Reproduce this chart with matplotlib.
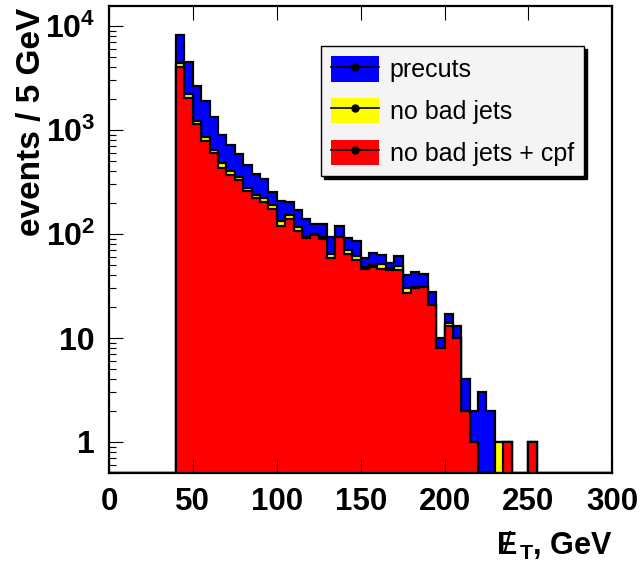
import matplotlib
matplotlib.use('Agg')
import matplotlib.pyplot as plt
import numpy as np
from matplotlib.patches import Patch
from matplotlib.lines import Line2D
from matplotlib.ticker import LogLocator, NullFormatter

plt.rcParams['font.family'] = 'Liberation Sans'
plt.rcParams['mathtext.fontset'] = 'custom'
plt.rcParams['mathtext.rm'] = 'Liberation Sans:bold'
plt.rcParams['mathtext.bf'] = 'Liberation Sans:bold'
plt.rcParams['mathtext.it'] = 'Liberation Sans:bold'
plt.rcParams['mathtext.sf'] = 'Liberation Sans'

# missing ET histograms, 5 GeV bins starting at 40 GeV
first_bin = 40
bin_width = 5
precuts = [8150, 4520, 2670, 1890, 1345, 906, 711, 583, 465, 375,
           336, 256, 208, 204, 172, 138, 125, 125, 93, 120,
           91, 86, 59, 66, 63, 53, 61, 40, 43, 41,
           28, 10, 17, 13, 4, 2, 3, 2, 1, 1,
           0, 0, 1, 0]
no_bad_jets = [4400, 2200, 1230, 860, 650, 480, 400, 352, 278, 240,
               224, 190, 132, 152, 118, 94, 100, 94, 64, 93,
               71, 61, 48, 50, 52, 47, 49, 30, 31, 31,
               21, 8, 14, 10, 2, 1, 0, 0, 1, 1,
               0, 0, 1, 0]
no_bad_jets_cpf = [4000, 2030, 1140, 790, 605, 435, 368, 328, 262, 220,
                   205, 173, 120, 138, 108, 91, 97, 89, 59, 93,
                   64, 56, 46, 48, 46, 45, 45, 27, 30, 31,
                   21, 8, 13, 10, 2, 1, 0, 0, 0, 1,
                   0, 0, 1, 0]
labels = ['precuts', 'no bad jets', 'no bad jets + cpf']
colors = ['#0000ff', '#ffff00', '#ff0000']

ymin = 0.5
ymax = 1.57e4


def main():
  fig = plt.figure(figsize=(6.43, 5.67), dpi=100)
  ax = fig.add_axes([0.1695, 0.1653, 0.7828, 0.8246])

  edges = np.arange(0, 300 + bin_width, bin_width)
  nbins = len(edges) - 1
  lead = (first_bin - edges[0]) // bin_width
  for vals, col in zip([precuts, no_bad_jets, no_bad_jets_cpf], colors):
    full = np.zeros(nbins)
    full[lead:lead + len(vals)] = vals
    v = np.where(full > 0, full, ymin)
    ax.stairs(v, edges, baseline=ymin, fill=True, color=col, lw=0)
    ax.stairs(v, edges, baseline=ymin, color='k', lw=1.6)

  ax.set_yscale('log')
  ax.set_xlim(0, 300)
  ax.set_ylim(ymin, ymax)

  ax.set_xticks(np.arange(0, 301, 50))
  ax.set_xticklabels([str(t) for t in range(0, 301, 50)],
                     fontsize=22.5, fontweight='bold')
  ax.set_yticks([1, 10, 100, 1000, 10000])
  ax.set_yticklabels(['1', '10', r'$10^{2}$', r'$10^{3}$', r'$10^{4}$'],
                     fontsize=23, fontweight='bold')
  ax.yaxis.set_minor_locator(LogLocator(base=10, subs=np.arange(2, 10)))
  ax.yaxis.set_minor_formatter(NullFormatter())
  ax.tick_params(axis='x', which='major', direction='in', length=10, width=0.8,
                 top=True, bottom=True, pad=10)
  ax.tick_params(axis='y', which='major', direction='in', length=10, width=0.8,
                 left=True, right=False, pad=10)
  ax.tick_params(axis='y', which='minor', direction='in', length=5, width=0.8,
                 left=True, right=False)
  for sp in ax.spines.values():
    sp.set_linewidth(1.6)

  ax.set_ylabel('events / 5 GeV', fontsize=24, fontweight='bold', loc='top')
  ax.yaxis.set_label_coords(-0.124, 0.995)
  ax.set_xlabel(r'${E\!\!\!\mathsf{/}\;}_{T}$, GeV', fontsize=22,
                fontweight='bold', loc='right', labelpad=9)

  handles = []
  for col in colors:
    handles.append((Patch(facecolor=col, edgecolor='none'),
                    Line2D([], [], color='k', lw=1.2, marker='o', ms=5)))
  leg = ax.legend(handles, labels, loc='upper left',
                  bbox_to_anchor=(321 / 643, 1 - 46 / 567),
                  bbox_transform=fig.transFigure, borderaxespad=0,
                  fontsize=18, handlelength=1.9, handleheight=1.2,
                  handletextpad=0.45, labelspacing=0.62, borderpad=0.4,
                  fancybox=False, edgecolor='k', facecolor='#f4f4f4',
                  framealpha=1, shadow={'color': 'k', 'alpha': 1})
  leg.get_frame().set_linewidth(1.0)

  fig.savefig('out.png', dpi=100)


if __name__ == "__main__":
  main()
